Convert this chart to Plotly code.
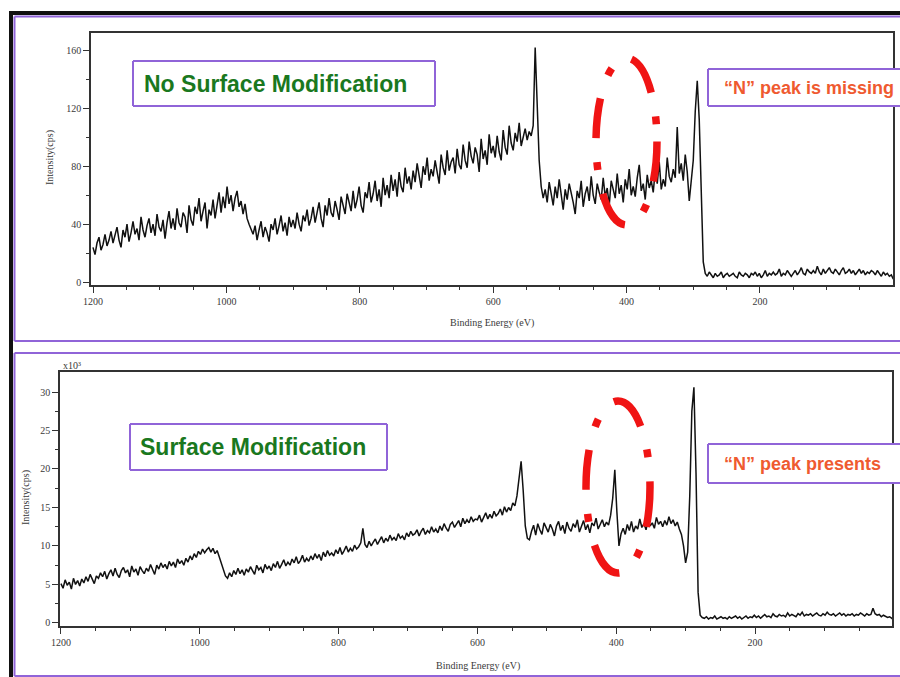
import plotly.graph_objects as go

W, H = 900, 677

# ---------------- data ----------------
ENERGY_START = 1200   # eV, first sample
ENERGY_STEP = 3       # eV between samples (decreasing)

# Top spectrum: no surface modification, counts per second
top_counts = [
    24, 19, 27, 31, 22, 26, 33, 25, 29, 35,
    27, 33, 38, 29, 24, 36, 31, 40, 28, 34,
    42, 33, 37, 29, 45, 36, 31, 39, 44, 34,
    40, 32, 47, 38, 35, 43, 30, 41, 49, 37,
    44, 36, 51, 41, 38, 48, 45, 34, 53, 43,
    39, 52, 47, 58, 42, 49, 55, 37, 50, 46,
    57, 44, 53, 62, 48, 59, 51, 66, 54, 60,
    49, 58, 63, 52, 56, 47, 54, 44, 40, 37,
    33, 39, 29, 36, 42, 31, 38, 34, 28, 40,
    36, 44, 33, 39, 46, 35, 41, 32, 45, 38,
    43, 37, 48, 40, 35, 46, 42, 50, 39, 44,
    52, 41, 47, 55, 44, 38, 53, 46, 58, 48,
    45, 56, 50, 43, 59, 52, 47, 61, 54, 49,
    63, 51, 57, 66, 53, 48, 62, 58, 69, 55,
    61, 70, 56, 64, 52, 72, 60, 67, 58, 74,
    63, 71, 59, 76, 66, 62, 79, 68, 73, 64,
    77, 69, 82, 72, 65, 80, 74, 86, 70, 78,
    73, 84, 76, 68, 88, 79, 74, 91, 77, 83,
    86, 75, 92, 81, 78, 95, 84, 79, 97, 87,
    82, 93, 88, 76, 99, 85, 91, 81, 102, 89,
    94, 86, 101, 90, 84, 105, 93, 88, 108, 96,
    91, 103, 97, 110, 94, 100, 106, 98, 104, 101,
    108, 162, 121, 84, 66, 58, 64, 55, 69, 60,
    53, 66, 58, 71, 61, 50, 64, 57, 68, 62,
    55, 47, 63, 58, 70, 52, 61, 66, 56, 73,
    60, 54, 68, 62, 57, 72, 59, 65, 53, 70,
    63, 58, 75, 61, 67, 55, 71, 64, 78, 60,
    66, 59, 72, 81, 63, 68, 57, 74, 65, 70,
    62, 77, 68, 83, 64, 71, 66, 86, 73, 69,
    78, 72, 107, 75, 82, 70, 88, 76, 56, 68,
    84, 118, 139, 112, 58, 14, 6, 4, 7, 5,
    3, 6, 4, 5, 7, 3, 5, 6, 4, 5,
    6, 4, 3, 7, 5, 4, 6, 5, 3, 6,
    5, 7, 4, 6, 3, 5, 8, 4, 6, 5,
    7, 5, 6, 9, 4, 6, 5, 8, 6, 4,
    6, 8, 5, 7, 10, 6, 5, 9, 7, 6,
    8, 6, 11, 7, 5, 9, 6, 8, 10, 7,
    6, 9, 7, 5, 8, 10, 6, 7, 9, 6,
    8, 5, 7, 9, 6, 8, 5, 7, 6, 8,
    7, 5, 8, 6, 4, 7, 5, 6, 4, 5,
    2,
]

# Bottom spectrum: surface modification, counts per second x10^3
bottom_counts_k = [
    5.1, 4.5, 5.6, 4.9, 5.3, 4.4, 5.8, 5.0, 5.5, 4.8,
    5.7, 5.2, 6.0, 5.4, 6.3, 5.6, 5.1, 6.1, 5.8, 6.5,
    6.0, 6.7, 5.7, 6.4, 6.9, 6.1, 7.1, 6.3, 5.9, 6.8,
    7.2, 6.5, 6.9, 6.0, 7.4, 6.6, 7.0, 6.2, 7.3, 6.8,
    6.4, 7.1, 6.7, 7.6, 6.9, 6.3, 7.5, 7.0, 7.8, 7.2,
    7.6, 7.0, 8.0, 7.4, 7.9, 7.2, 8.3, 7.7, 8.1, 7.5,
    8.4, 7.9, 8.7, 8.2, 9.0, 8.5, 9.3, 8.9, 9.6, 9.1,
    9.5, 9.8, 9.2, 9.7, 9.0, 9.4, 8.6, 7.8, 6.8, 6.1,
    5.8, 6.5, 6.0, 6.8, 6.3, 7.1, 6.4, 6.9, 6.2, 7.0,
    6.6, 7.3, 6.8, 6.3, 7.5, 6.9, 7.2, 6.5, 7.6, 7.0,
    7.4, 6.8, 7.7, 7.2, 8.0, 7.1, 7.6, 8.2, 7.4, 7.9,
    7.5, 8.3, 7.8, 8.6, 7.7, 8.1, 8.8, 7.9, 8.4, 8.0,
    8.7, 8.2, 9.0, 8.4, 8.9, 8.1, 9.2, 8.6, 9.4, 8.8,
    9.1, 8.7, 9.5, 9.0, 9.8, 8.9, 9.4, 10.0, 9.2, 9.7,
    9.3, 10.1, 9.6, 9.9, 10.4, 12.3, 10.2, 9.8, 10.6, 10.0,
    10.5, 10.9, 10.2, 10.8, 11.2, 10.4, 11.0, 10.6, 11.4, 10.8,
    11.1, 10.7, 11.6, 11.0, 11.3, 10.8, 11.7, 11.2, 11.9, 11.4,
    11.6, 12.1, 11.3, 11.9, 12.3, 11.5, 12.0, 11.7, 12.5, 11.8,
    12.2, 11.7, 12.6, 12.0, 12.9, 12.3, 11.9, 12.8, 13.1, 12.4,
    12.8, 13.3, 12.5, 13.6, 12.9, 13.4, 13.0, 13.8, 13.2, 13.5,
    13.4, 14.0, 13.1, 13.7, 14.3, 13.5, 14.1, 13.6, 14.5, 13.9,
    14.2, 14.8, 14.0, 15.1, 14.4, 15.0, 14.6, 15.6, 15.2, 16.5,
    19.0, 21.0, 17.2, 12.6, 11.0, 10.8, 11.9, 12.7, 11.4, 12.9,
    12.1, 11.5, 13.0, 12.4, 11.8, 12.8, 12.2, 11.3, 12.6, 13.2,
    12.0, 12.7, 11.6, 13.1, 12.3, 11.9, 12.9, 12.4, 13.4, 11.8,
    12.5, 13.3, 12.1, 12.8, 11.7, 13.0, 12.6, 13.6, 12.2, 12.9,
    13.4, 12.5, 13.1, 12.7, 14.0, 16.2, 19.9, 14.4, 10.0, 11.6,
    12.3, 11.5, 12.8, 12.0, 13.2, 11.8, 12.6, 12.2, 13.5, 12.4,
    12.9, 12.1, 13.4, 12.6, 13.0, 12.3, 13.7, 12.8, 13.2, 12.5,
    13.3, 12.7, 13.8, 12.9, 13.4, 12.6, 13.1, 12.2, 11.5, 10.0,
    7.8, 9.2, 16.5, 27.5, 30.6, 19.5, 4.0, 1.0, 0.7, 0.6,
    0.8, 0.5, 0.7, 0.6, 0.9, 0.5, 0.7, 0.8, 0.6, 0.7,
    0.5, 0.8, 0.6, 0.7, 0.9, 0.6, 0.8, 0.5, 0.7, 0.9,
    0.6, 0.8, 0.7, 1.0, 0.7, 0.9, 0.6, 0.8, 1.1, 0.8,
    0.9, 0.7, 1.2, 0.9, 0.8, 1.1, 0.9, 1.0, 0.8, 1.3,
    0.9, 1.1, 1.0, 0.8, 1.2, 1.0, 1.4, 0.9, 1.1, 1.0,
    1.2, 0.9, 1.1, 1.3, 1.0, 0.9, 1.2, 1.0, 1.4, 1.1,
    1.0, 1.2, 0.9, 1.1, 1.3, 1.0, 1.2, 0.9, 1.1, 1.0,
    1.2, 0.9, 1.1, 1.0, 1.3, 1.1, 0.9, 1.2, 1.0, 1.1,
    1.9, 1.2, 1.0, 1.1, 0.8, 1.0, 0.9, 0.7, 0.8, 0.6,
    0.4,
]

x_major_ticks = [1200, 1000, 800, 600, 400, 200]
x_minor_ticks = [1150, 1100, 1050, 950, 900, 850, 750, 700, 650,
                 550, 500, 450, 350, 300, 250, 150, 100, 50]
top_y_ticks = [0, 40, 80, 120, 160]
top_y_minor = [20, 60, 100, 140]
bottom_y_ticks = [0, 5, 10, 15, 20, 25, 30]
bottom_y_minor = [2.5, 7.5, 12.5, 17.5, 22.5, 27.5]

top_label = "No Surface Modification"
bottom_label = "Surface Modification"
top_note = "\u201cN\u201d peak is missing"
bottom_note = "\u201cN\u201d peak presents"
x_title = "Binding Energy (eV)"
y_title = "Intensity(cps)"
scale_label = "x10\u00b3"

energy_top = [ENERGY_START - ENERGY_STEP * i for i in range(len(top_counts))]
energy_bottom = [ENERGY_START - ENERGY_STEP * i for i in range(len(bottom_counts_k))]

# ---------------- helpers (pixel -> paper) ----------------
def px(x):
    return min(x, W) / W


def py(y):
    return 1 - y / H


LINE_C = "#111111"
AXIS_C = "#333333"
TICK_FONT = dict(family="Liberation Serif", size=10, color="#3a3a3a")
PURPLE = "#9064d8"
GREEN = "#1a781e"
ORANGE = "#ef5a30"
RED = "#f01414"

fig = go.Figure()
fig.add_trace(go.Scatter(x=energy_top, y=top_counts, mode="lines",
                         line=dict(color=LINE_C, width=1.5),
                         xaxis="x", yaxis="y", showlegend=False, hoverinfo="skip"))
fig.add_trace(go.Scatter(x=energy_bottom, y=bottom_counts_k, mode="lines",
                         line=dict(color=LINE_C, width=1.5),
                         xaxis="x2", yaxis="y2", showlegend=False, hoverinfo="skip"))


def xaxis_cfg(domain, rng, anchor):
    return dict(domain=domain, range=rng, anchor=anchor, showline=True, mirror=True,
                linecolor=AXIS_C, linewidth=1.5, ticks="outside", ticklen=6,
                tickwidth=1.3, tickcolor=AXIS_C, tickmode="array",
                tickvals=x_major_ticks, tickfont=TICK_FONT, showgrid=False,
                zeroline=False,
                minor=dict(tickmode="array", tickvals=x_minor_ticks, ticks="outside",
                           ticklen=3, tickwidth=1.2, tickcolor=AXIS_C, showgrid=False))


def yaxis_cfg(domain, rng, anchor, ticks, minor):
    return dict(domain=domain, range=rng, anchor=anchor, showline=True, mirror=True,
                linecolor=AXIS_C, linewidth=1.5, ticks="outside", ticklen=6,
                tickwidth=1.3, tickcolor=AXIS_C, tickmode="array", tickvals=ticks,
                tickfont=TICK_FONT, showgrid=False, zeroline=False,
                minor=dict(tickmode="array", tickvals=minor, ticks="outside",
                           ticklen=3, tickwidth=1.2, tickcolor=AXIS_C, showgrid=False))


layout = dict(
    width=W, height=H, autosize=False,
    margin=dict(l=0, r=0, t=0, b=0, pad=0, autoexpand=False),
    paper_bgcolor="white", plot_bgcolor="white",
    showlegend=False,
    xaxis=xaxis_cfg([px(91), px(893)], [1203, 0.5], "y"),
    yaxis=yaxis_cfg([py(285), py(33)], [-2, 172], "x", top_y_ticks, top_y_minor),
    xaxis2=xaxis_cfg([px(60), px(892)], [1201.4, 2.6], "y2"),
    yaxis2=yaxis_cfg([py(626), py(372)], [-0.4, 32.6], "x2", bottom_y_ticks, bottom_y_minor),
)
fig.update_layout(**layout)

shapes = []
# outer black frame (top and left)
shapes.append(dict(type="rect", xref="paper", yref="paper", x0=px(9), x1=px(900),
                   y0=py(15), y1=py(11), fillcolor="#111111", line=dict(width=0)))
shapes.append(dict(type="rect", xref="paper", yref="paper", x0=px(9), x1=px(13),
                   y0=py(677), y1=py(11), fillcolor="#111111", line=dict(width=0)))
# purple panel boxes (open on the right, as in the cropped original)
for (y0, y1) in [(16.5, 341), (353, 676)]:
    for seg in [((14.5, y0), (900, y0)), ((14.5, y1), (900, y1)), ((14.5, y0), (14.5, y1))]:
        shapes.append(dict(type="line", xref="paper", yref="paper",
                           x0=px(seg[0][0]), y0=py(seg[0][1]),
                           x1=px(seg[1][0]), y1=py(seg[1][1]),
                           line=dict(color=PURPLE, width=2)))
# label boxes (the two right-hand ones run off the right edge)
for (x0, y0, x1, y1, open_right) in [(133, 61, 435, 106, False), (708, 69, 900, 106, True),
                                     (130, 424, 387, 470, False), (708, 444, 900, 483, True)]:
    shapes.append(dict(type="rect", xref="paper", yref="paper", x0=px(x0), x1=px(x1),
                       y0=py(y1), y1=py(y0), fillcolor="white", line=dict(width=0)))
    segs = [((x0, y0), (x1, y0)), ((x0, y1), (x1, y1)), ((x0, y0), (x0, y1))]
    if not open_right:
        segs.append(((x1, y0), (x1, y1)))
    for seg in segs:
        shapes.append(dict(type="line", xref="paper", yref="paper",
                           x0=px(seg[0][0]), y0=py(seg[0][1]),
                           x1=px(seg[1][0]), y1=py(seg[1][1]),
                           line=dict(color=PURPLE, width=2)))
# red dash-dot ellipses
for (x0, y0, x1, y1) in [(596, 58, 657, 225), (586, 401, 650, 573)]:
    shapes.append(dict(type="circle", xref="paper", yref="paper", x0=px(x0), x1=px(x1),
                       y0=py(y1), y1=py(y0),
                       line=dict(color=RED, width=7.5, dash="40px,24px,8px,24px")))
fig.update_layout(shapes=shapes)

ann = []


def text(x, y, s, font, angle=0, xanchor="center"):
    ann.append(dict(x=px(x), y=py(y), xref="paper", yref="paper", text=s,
                    showarrow=False, font=font, textangle=angle,
                    xanchor=xanchor, yanchor="middle"))


SMALL = dict(family="Liberation Serif", size=10, color="#3a3a3a")
text(492, 323, x_title, SMALL)
text(478, 666, x_title, SMALL)
text(50, 158, y_title, SMALL, angle=-90)
text(26, 498, y_title, SMALL, angle=-90)
text(72, 365, scale_label, dict(family="Liberation Serif", size=10, color="#3a3a3a"))

BIG = dict(family="Liberation Sans", size=23, color=GREEN)
NOTE = dict(family="Liberation Sans", size=18, color=ORANGE)
text(275, 84, "<b>" + top_label + "</b>", BIG)
text(253, 447, "<b>" + bottom_label + "</b>", BIG)
text(722, 88, "<b>" + top_note + "</b>", NOTE, xanchor="left")
text(722, 464, "<b>" + bottom_note + "</b>", NOTE, xanchor="left")
fig.update_layout(annotations=ann)

fig.write_html("out.html", config={"displayModeBar": False, "responsive": False},
               post_script=("document.body.style.margin='0';"
                            "document.body.style.padding='0';"
                            "document.documentElement.style.overflow='hidden';"))
